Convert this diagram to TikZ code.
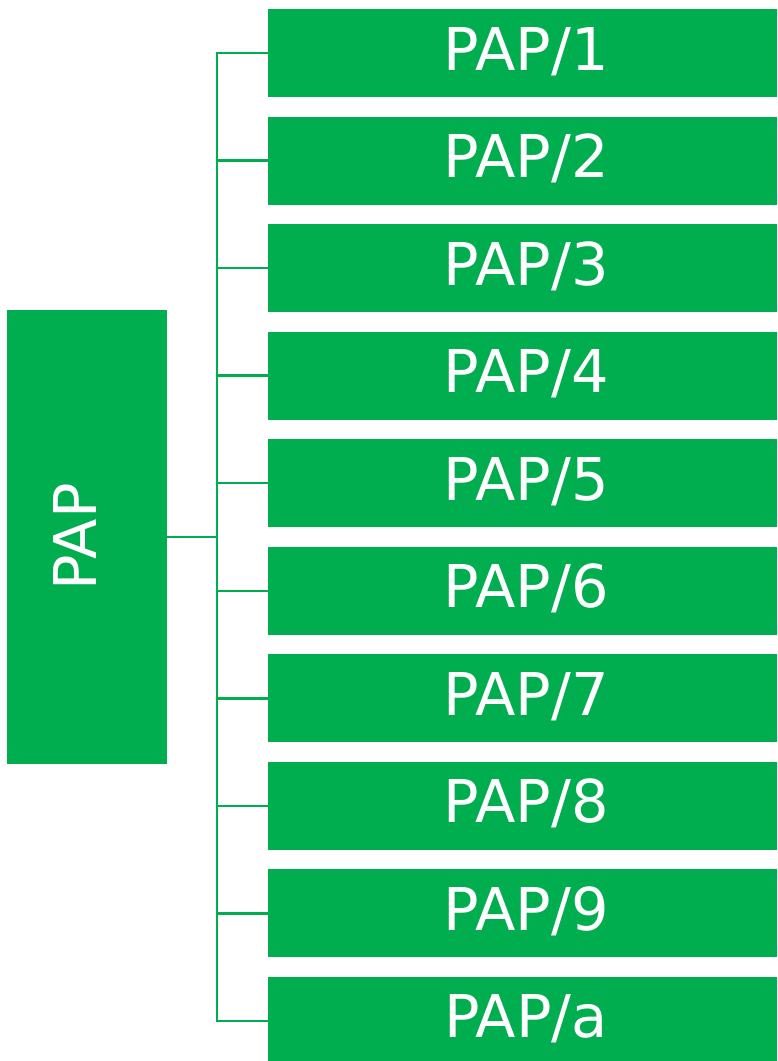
\documentclass[tikz,border=0pt]{standalone}
\usepackage{fontspec}
\setmainfont{DejaVu Sans}
\definecolor{pgreen}{HTML}{00AE4F}
\begin{document}
\begin{tikzpicture}[x=1pt,y=-1pt,
  box/.style={fill=pgreen,draw=none,inner sep=0pt,outer sep=0pt},
  lbl/.style={text=white,font=\fontsize{59}{59}\selectfont,inner sep=0pt,anchor=base},
  conn/.style={draw=pgreen,line width=2.5pt,line cap=rect}]
\useasboundingbox (0,0) rectangle (777,1061);
\node[box,minimum width=160pt,minimum height=454pt] (root) at (87,537) {};
\node[lbl,rotate=90] (rootlbl) at (96,537) {PAP};
\coordinate (trunk) at (217,537);
\foreach \t [count=\i from 0] in {1,2,3,4,5,6,7,8,9,a}{
  \pgfmathsetmacro{\top}{9+107.55*\i}
  \node[box,minimum width=509pt,minimum height=88pt] (b\i) at (522.5,\top+44) {};
  \node[lbl] (l\i) at (526,\top+61) {PAP/\t};
}
\draw[conn] (root.east) -- (trunk);
\draw[conn,line cap=butt] (b0.west) -| (217,52) -- (trunk |- b9.west) -- (b9.west);
\foreach \i in {1,...,8}{
  \draw[conn] (trunk |- b\i.west) -- (b\i.west);
}
\end{tikzpicture}
\end{document}
